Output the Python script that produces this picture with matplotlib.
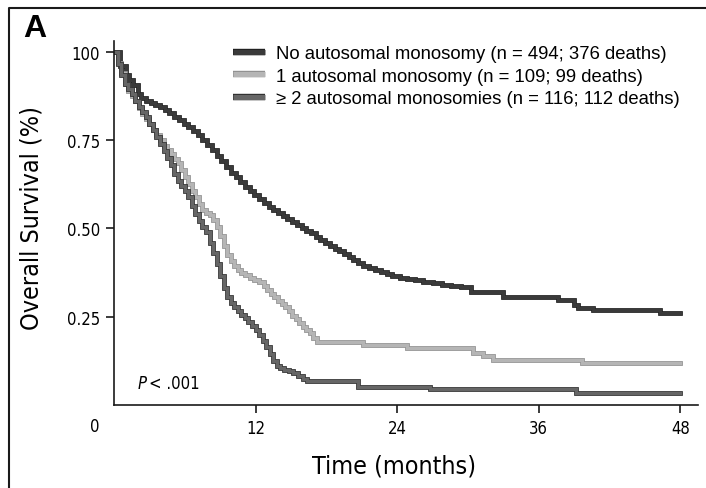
import matplotlib
matplotlib.use('Agg')
import matplotlib.pyplot as plt
import matplotlib.patheffects as pe
from matplotlib.lines import Line2D

# --- Data ---
# No autosomal monosomy
t_none = [0, 0.5, 1.0, 1.3, 1.6, 2.0, 2.3, 2.7, 3.1, 3.5, 3.9, 4.3, 4.7, 5.1, 5.5,
          5.9, 6.3, 6.7, 7.1, 7.5, 7.9, 8.3, 8.7, 9.1, 9.5, 9.9, 10.3, 10.7, 11.1,
          11.5, 11.9, 12.3, 12.7, 13.1, 13.5, 13.9, 14.3, 14.7, 15.1, 15.5, 15.9,
          16.3, 16.7, 17.1, 17.5, 17.9, 18.3, 18.7, 19.1, 19.5, 19.9, 20.3, 20.7,
          21.1, 21.6, 22.1, 22.6, 23.1, 23.6, 24.2, 24.8, 25.5, 26.2, 27.0, 27.8,
          28.6, 29.4, 30.3, 33.0, 37.6, 39.0, 39.3, 40.6, 46.3, 48.0]
s_none = [1.00, 0.96, 0.935, 0.92, 0.905, 0.88, 0.87, 0.862, 0.856, 0.85, 0.843,
          0.835, 0.826, 0.816, 0.806, 0.797, 0.787, 0.777, 0.765, 0.752, 0.737,
          0.722, 0.705, 0.69, 0.673, 0.658, 0.645, 0.632, 0.618, 0.606, 0.595,
          0.583, 0.571, 0.561, 0.551, 0.543, 0.535, 0.527, 0.519, 0.51, 0.50,
          0.494, 0.487, 0.477, 0.467, 0.458, 0.45, 0.443, 0.435, 0.427, 0.418,
          0.41, 0.402, 0.395, 0.388, 0.382, 0.377, 0.372, 0.366, 0.36, 0.357,
          0.353, 0.349, 0.345, 0.341, 0.337, 0.333, 0.321, 0.307, 0.298, 0.284,
          0.275, 0.27, 0.261, 0.261]

# 1 autosomal monosomy
t_one = [0, 0.3, 0.6, 0.9, 1.2, 1.5, 1.8, 2.1, 2.4, 2.7, 3.0, 3.3, 3.6, 3.9, 4.2,
         4.5, 4.8, 5.1, 5.4, 5.7, 6.0, 6.3, 6.6, 6.9, 7.2, 7.5, 7.8, 8.1, 8.4,
         8.7, 9.0, 9.3, 9.6, 9.9, 10.2, 10.5, 10.8, 11.1, 11.5, 11.9, 12.3, 12.7,
         13.0, 13.3, 13.6, 13.9, 14.2, 14.5, 14.8, 15.1, 15.4, 15.7, 16.0, 16.3,
         16.6, 16.9, 17.2, 21.1, 24.8, 30.4, 31.3, 32.1, 39.7, 48.0]
s_one = [1.00, 0.97, 0.94, 0.91, 0.89, 0.875, 0.86, 0.84, 0.825, 0.81, 0.795,
         0.78, 0.765, 0.75, 0.735, 0.722, 0.71, 0.697, 0.685, 0.665, 0.645, 0.625,
         0.607, 0.59, 0.57, 0.552, 0.545, 0.537, 0.525, 0.505, 0.478, 0.45, 0.425,
         0.407, 0.395, 0.383, 0.374, 0.367, 0.36, 0.355, 0.348, 0.337, 0.325,
         0.315, 0.305, 0.294, 0.285, 0.277, 0.265, 0.253, 0.243, 0.232, 0.222,
         0.213, 0.203, 0.19, 0.178, 0.17, 0.162, 0.148, 0.14, 0.128, 0.12, 0.12]

# >= 2 autosomal monosomies
t_two = [0, 0.3, 0.6, 0.9, 1.2, 1.5, 1.8, 2.1, 2.4, 2.7, 3.0, 3.3, 3.6, 3.9, 4.2,
         4.5, 4.8, 5.1, 5.4, 5.7, 6.0, 6.3, 6.6, 6.9, 7.2, 7.5, 7.8, 8.1, 8.4,
         8.7, 9.0, 9.3, 9.6, 9.9, 10.2, 10.5, 10.8, 11.1, 11.4, 11.7, 12.0, 12.3,
         12.6, 12.9, 13.2, 13.5, 13.8, 14.1, 14.4, 14.8, 15.2, 15.6, 16.0, 16.4,
         20.7, 26.8, 39.2, 48.0]
s_two = [1.00, 0.965, 0.935, 0.91, 0.895, 0.88, 0.862, 0.845, 0.83, 0.815, 0.797,
         0.78, 0.76, 0.74, 0.72, 0.70, 0.68, 0.655, 0.635, 0.62, 0.605, 0.59,
         0.565, 0.54, 0.52, 0.505, 0.49, 0.46, 0.43, 0.40, 0.365, 0.33, 0.305,
         0.29, 0.278, 0.266, 0.256, 0.246, 0.236, 0.225, 0.212, 0.198, 0.182,
         0.165, 0.145, 0.125, 0.11, 0.105, 0.10, 0.095, 0.09, 0.083, 0.075,
         0.068, 0.052, 0.045, 0.035, 0.035]

labels = ['No autosomal monosomy (n = 494; 376 deaths)',
          '1 autosomal monosomy (n = 109; 99 deaths)',
          '\u2265 2 autosomal monosomies (n = 116; 112 deaths)']
x_ticks = [12, 24, 36, 48]
x_ticklabels = ['12', '24', '36', '48']
y_ticks = [0.25, 0.50, 0.75, 1.00]
y_ticklabels = ['0.25', '0.50', '0.75', '100']

W, H = 706, 489
COND = ['Liberation Sans Narrow', 'DejaVu Sans']


def fx(px):
    return px / W


def fy(py):
    return 1 - py / H


fig = plt.figure(figsize=(W / 100, H / 100), dpi=100)
ax = fig.add_axes([fx(114), fy(406), fx(698) - fx(114), fy(42) - fy(406)])

styles = [('#3a3a3a', '#1e1e1e'), ('#b5b5b5', '#8c8c8c'), ('#666666', '#2a2a2a')]
series = [(t_none, s_none), (t_one, s_one), (t_two, s_two)]
handles = []
for (t, s), (col, edge), lab in zip(series, styles, labels):
    ax.plot(t, s, drawstyle='steps-post', color=col, lw=2.4, solid_joinstyle='miter',
            path_effects=[pe.Stroke(linewidth=3.4, foreground=edge), pe.Normal()])
    handles.append(Line2D([], [], color=col, lw=3.8, solid_capstyle='butt',
                          path_effects=[pe.Stroke(linewidth=4.6, foreground=edge), pe.Normal()],
                          label=lab))

ax.set_xlim(0, 49.5)
ax.set_ylim(0, 1.031)
for side in ['top', 'right']:
    ax.spines[side].set_visible(False)
for side in ['left', 'bottom']:
    ax.spines[side].set_linewidth(1.2)
    ax.spines[side].set_color('#1a1a1a')

ax.set_xticks(x_ticks)
ax.set_xticklabels(x_ticklabels, family=COND, fontstretch='condensed', fontsize=12)
ax.set_yticks(y_ticks)
ax.set_yticklabels(y_ticklabels, family=COND, fontstretch='condensed', fontsize=12)
ax.tick_params(axis='both', direction='out', length=6, width=1.2, color='#1a1a1a', pad=4)

leg = ax.legend(handles=handles, loc='upper left', bbox_to_anchor=(fx(233), fy(46)),
                bbox_transform=fig.transFigure, frameon=False, borderpad=0,
                borderaxespad=0, handlelength=1.75, handletextpad=0.6,
                labelspacing=0.3, prop={'family': 'Liberation Sans', 'size': 13.3})

ax.text(fx(138), fy(384), 'P', transform=fig.transFigure, fontsize=12,
        style='italic', family=COND, fontstretch='condensed', va='center', ha='left')
ax.text(fx(149), fy(384), '< .001', transform=fig.transFigure, fontsize=12,
        family=COND, fontstretch='condensed', va='center', ha='left')

fig.text(fx(95), fy(427), '0', fontsize=12, family=COND, fontstretch='condensed',
         ha='center', va='center')
fig.text(fx(394), fy(467), 'Time (months)', fontsize=18, family=COND,
         fontstretch='condensed', ha='center', va='center')
fig.text(fx(32), fy(218), 'Overall Survival (%)', fontsize=18, family=COND,
         fontstretch='condensed', rotation=90, ha='center', va='center')
fig.text(fx(35), fy(29), 'A', fontsize=23, fontweight='bold',
         family='Liberation Sans', ha='center', va='center')

# panel frame (only top and left edges are visible in the crop)
fig.add_artist(Line2D([fx(9), fx(9), 1.0], [0.0, fy(9), fy(9)],
                      transform=fig.transFigure, color='#1a1a1a', lw=1.5))

fig.savefig('out.png', dpi=100)
